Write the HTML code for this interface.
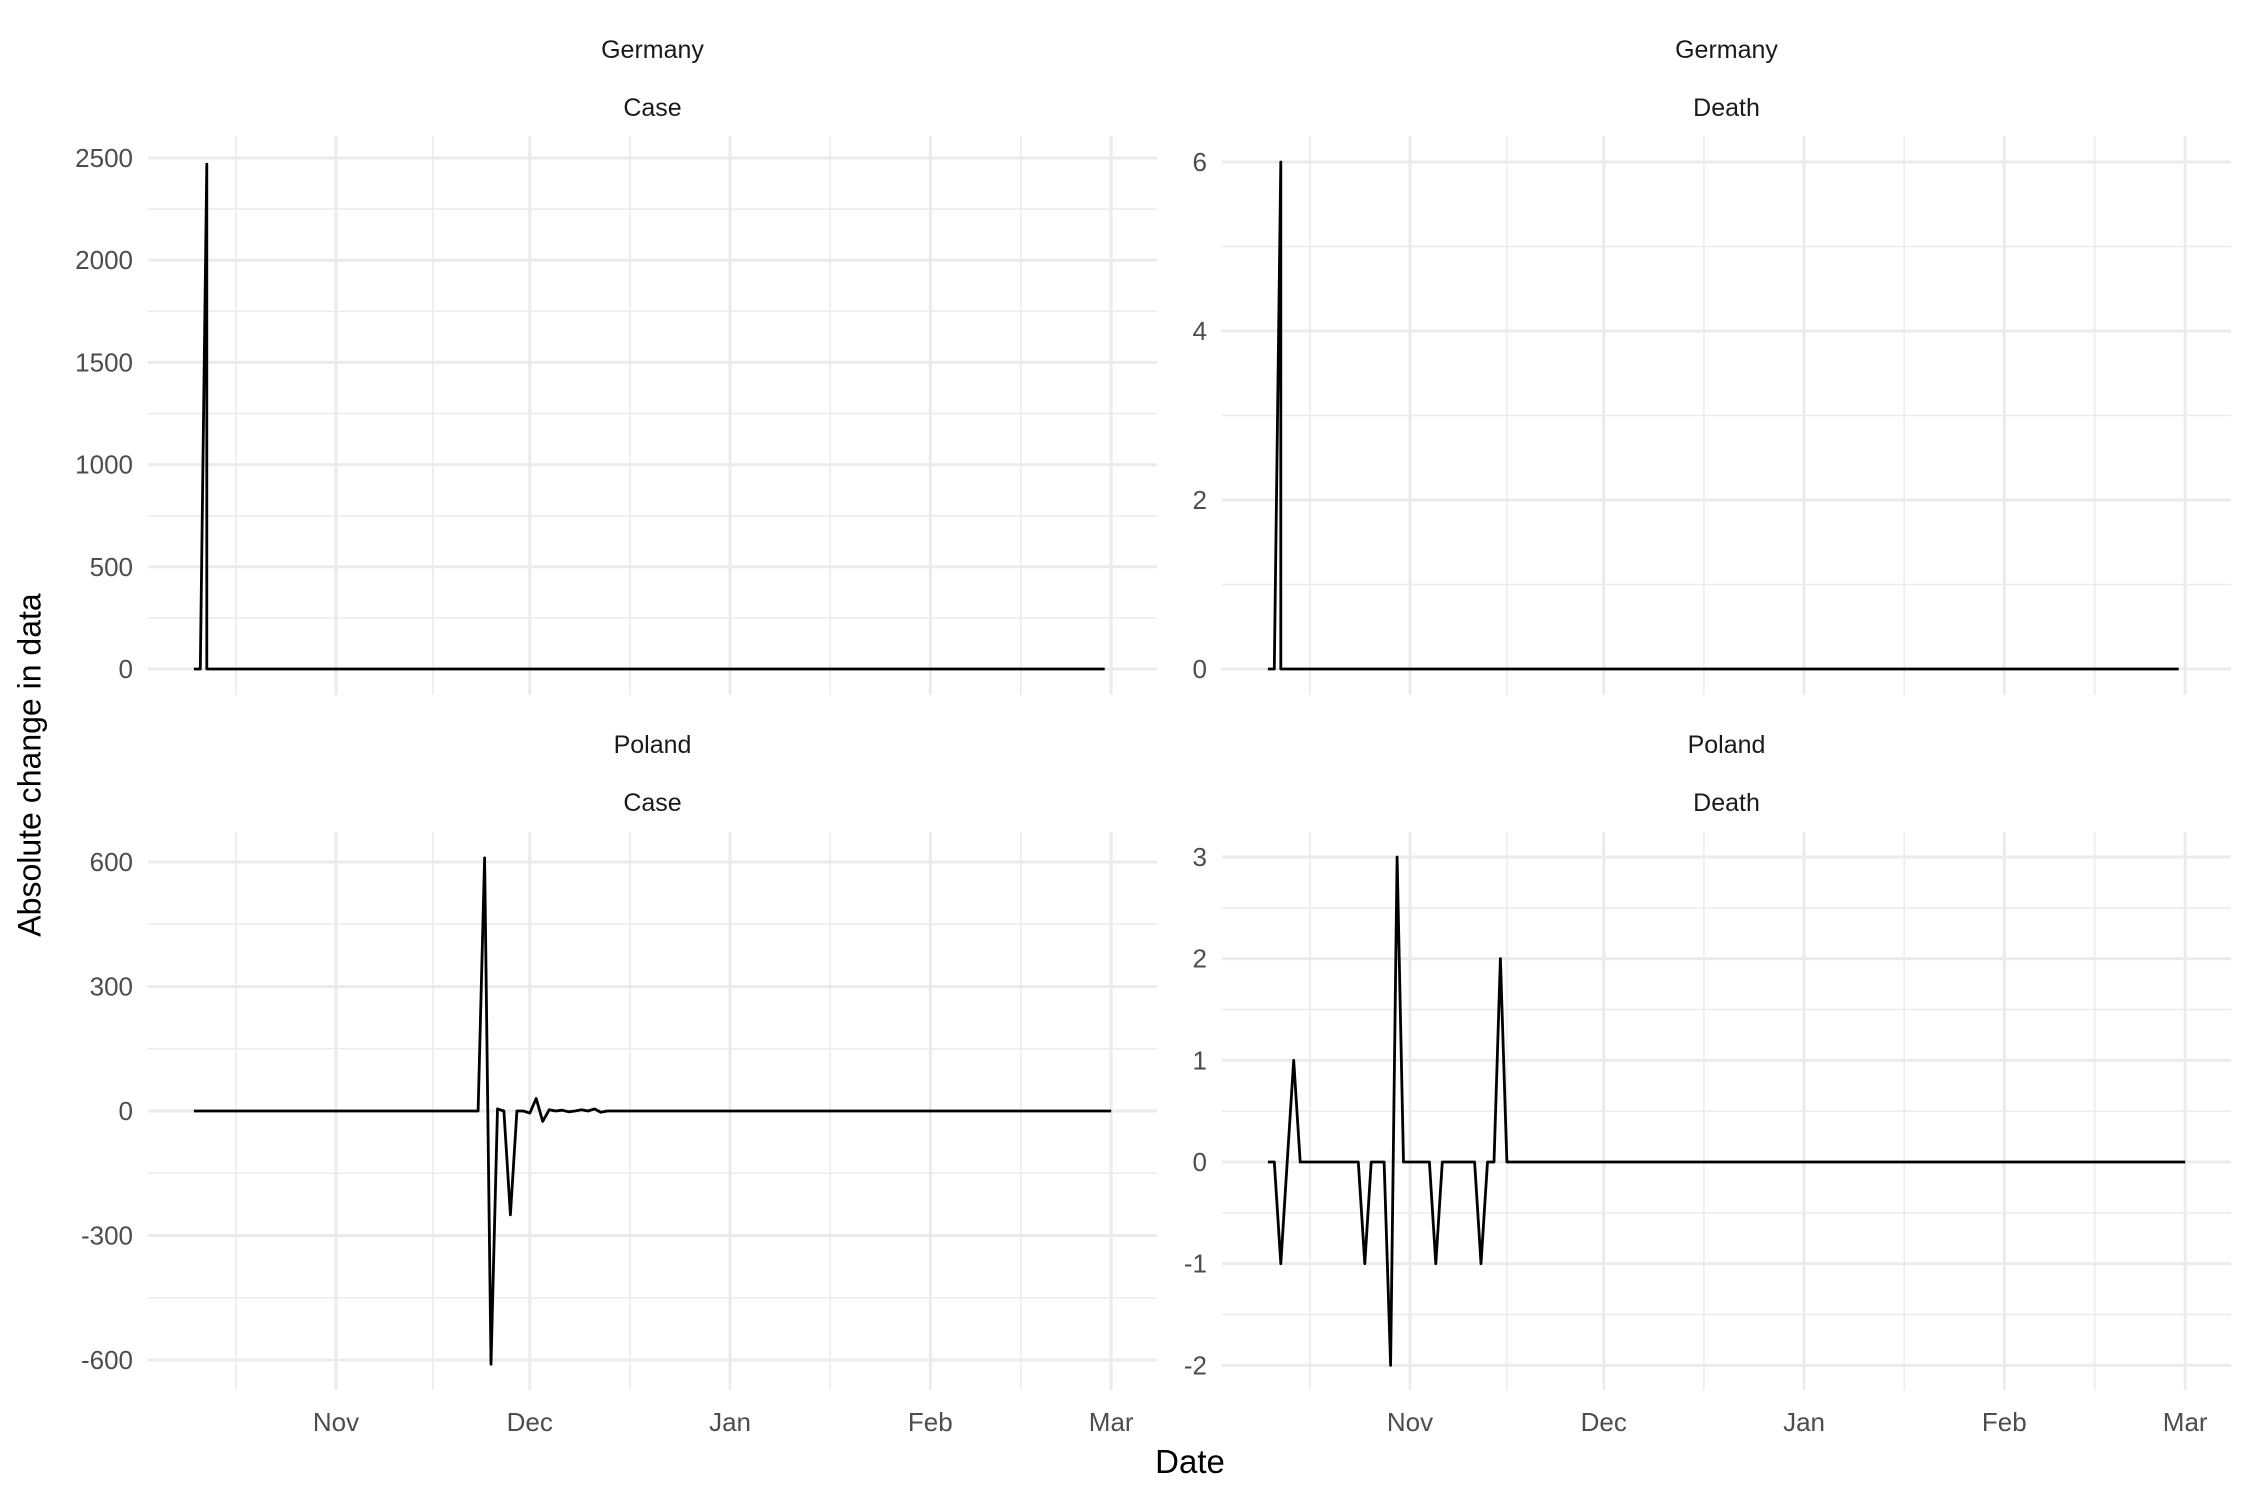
<!DOCTYPE html>
<html><head><meta charset="utf-8"><style>
html,body{margin:0;padding:0;background:#fff}
svg{display:block;font-family:"Liberation Sans",Arial,sans-serif}
</style></head><body>
<svg id="chart" width="2250" height="1500" viewBox="0 0 2250 1500">
<text x="32" y="765" transform="rotate(-90 32 765)" text-anchor="middle" font-size="32" fill="#000" dominant-baseline="middle">Absolute change in data</text>
<text x="1190" y="1473" text-anchor="middle" font-size="33" fill="#000">Date</text>
</svg>
<script>
// x-axis breaks (days offset from Nov 1)
const xMajorOffsets = [0, 30, 61, 92, 120];
const xMajorLabels = ["Nov", "Dec", "Jan", "Feb", "Mar"];
const xMinorOffsets = [-15.5, 15, 45.5, 76.5, 106];

// Germany - Case
const deCaseDays = [-22, -21, -20, -20, 119];
const deCaseVals = [0, 0, 2470, 0, 0];
const deCaseTicks = [0, 500, 1000, 1500, 2000, 2500];
const deCaseMinor = [250, 750, 1250, 1750, 2250];

// Germany - Death
const deDeathDays = [-22, -21, -20, -20, 119];
const deDeathVals = [0, 0, 6, 0, 0];
const deDeathTicks = [0, 2, 4, 6];
const deDeathMinor = [1, 3, 5];

// Poland - Case
const plCaseDays = [-22, 22, 23, 24, 25, 26, 27, 28, 29, 30, 31, 32, 33, 34, 35, 36, 37, 38, 39, 40, 41, 42, 120];
const plCaseVals = [0, 0, 610, -610, 5, 0, -250, 0, 0, -5, 30, -25, 3, 0, 2, -2, 0, 3, 0, 5, -3, 0, 0];
const plCaseTicks = [-600, -300, 0, 300, 600];
const plCaseMinor = [-450, -150, 150, 450];

// Poland - Death
const plDeathDays = [-22, -21, -20, -19, -18, -17, -8, -7, -6, -4, -3, -2, -1, 3, 4, 5, 10, 11, 12, 13, 14, 15, 120];
const plDeathVals = [0, 0, -1, 0, 1, 0, 0, -1, 0, 0, -2, 3, 0, 0, -1, 0, 0, -1, 0, 0, 2, 0, 0];
const plDeathTicks = [-2, -1, 0, 1, 2, 3];
const plDeathMinor = [-1.5, -0.5, 0.5, 1.5, 2.5];

const NS = "http://www.w3.org/2000/svg";
const svg = document.getElementById('chart');
const X0 = -29.1, DAYPX = 6.46;

function mk(tag, attrs, parent) {
  const e = document.createElementNS(NS, tag);
  for (const k in attrs) e.setAttribute(k, attrs[k]);
  parent.appendChild(e);
  return e;
}

function panel(cfg) {
  const g = mk('g', {}, svg);
  
  
  const xs = d => cfg.left + (d - X0) * DAYPX;
  const ys = v => cfg.y0 + (v - cfg.v0) * (cfg.y1 - cfg.y0) / (cfg.v1 - cfg.v0);
  const right = cfg.left + 1009;
  cfg.yMinor.forEach(v => {
    const l = mk('line', {x1: cfg.left, x2: right, y1: ys(v), y2: ys(v), stroke: '#ebebeb', 'stroke-width': 1.5}, g);
    
    
  });
  xMinorOffsets.forEach(d => {
    const l = mk('line', {x1: xs(d), x2: xs(d), y1: cfg.top, y2: cfg.bottom, stroke: '#ebebeb', 'stroke-width': 1.5}, g);
    
    
  });
  cfg.yTicks.forEach(v => {
    const l = mk('line', {x1: cfg.left, x2: right, y1: ys(v), y2: ys(v), stroke: '#ebebeb', 'stroke-width': 3}, g);
    
    
    const t = mk('text', {x: cfg.left - 15, y: ys(v) + 9, 'text-anchor': 'end', 'font-size': 26, fill: '#4d4d4d'}, g);
    t.textContent = String(v);
    
    
  });
  xMajorOffsets.forEach((d, i) => {
    const l = mk('line', {x1: xs(d), x2: xs(d), y1: cfg.top, y2: cfg.bottom, stroke: '#ebebeb', 'stroke-width': 3}, g);
    
    
    if (cfg.xLabels) {
      const t = mk('text', {x: xs(d), y: 1431, 'text-anchor': 'middle', 'font-size': 26, fill: '#4d4d4d'}, g);
      t.textContent = xMajorLabels[i];
      
      
    }
  });
  const cx = cfg.left + 1009 / 2;
  const s1 = mk('text', {x: cx, y: cfg.stripY, 'text-anchor': 'middle', 'font-size': 25, fill: '#1a1a1a'}, g);
  s1.textContent = cfg.country;
  
  
  const s2 = mk('text', {x: cx, y: cfg.stripY + 58, 'text-anchor': 'middle', 'font-size': 25, fill: '#1a1a1a'}, g);
  s2.textContent = cfg.type;
  
  
  const pts = cfg.days.map((d, i) => xs(d).toFixed(1) + ',' + ys(cfg.vals[i]).toFixed(1)).join(' ');
  const p = mk('polyline', {points: pts, fill: 'none', stroke: '#000', 'stroke-width': 2.8, 'stroke-linejoin': 'round'}, g);
  
  
}

panel({name: 'panel-germany-case', country: 'Germany', type: 'Case', left: 148, top: 136, bottom: 695, stripY: 58,
  y0: 669, v0: 0, y1: 158, v1: 2500, yTicks: deCaseTicks, yMinor: deCaseMinor, days: deCaseDays, vals: deCaseVals, xLabels: false});
panel({name: 'panel-germany-death', country: 'Germany', type: 'Death', left: 1222, top: 136, bottom: 695, stripY: 58,
  y0: 669, v0: 0, y1: 162, v1: 6, yTicks: deDeathTicks, yMinor: deDeathMinor, days: deDeathDays, vals: deDeathVals, xLabels: false});
panel({name: 'panel-poland-case', country: 'Poland', type: 'Case', left: 148, top: 832, bottom: 1390, stripY: 753,
  y0: 1111, v0: 0, y1: 862, v1: 600, yTicks: plCaseTicks, yMinor: plCaseMinor, days: plCaseDays, vals: plCaseVals, xLabels: true});
panel({name: 'panel-poland-death', country: 'Poland', type: 'Death', left: 1222, top: 832, bottom: 1390, stripY: 753,
  y0: 1162, v0: 0, y1: 857, v1: 3, yTicks: plDeathTicks, yMinor: plDeathMinor, days: plDeathDays, vals: plDeathVals, xLabels: true});
</script>
</body></html>
